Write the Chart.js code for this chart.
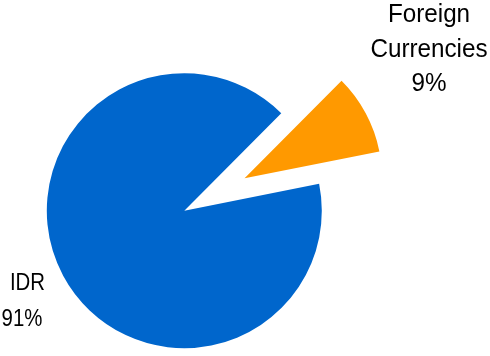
<!DOCTYPE html>
<html>
<head>
<meta charset="utf-8">
<script src="https://cdn.jsdelivr.net/npm/chart.js@4"></script>
<style>
  html, body { margin: 0; padding: 0; background: #ffffff; }
  #wrap { width: 490px; height: 356px; }
</style>
</head>
<body>
<div id="wrap"><canvas id="c" width="490" height="356"></canvas></div>
<script>
// ---- data ----
const categories = ['Foreign Currencies', 'IDR'];
const shareValues = [9.4, 90.6];
const percentLabels = ['9%', '91%'];
const sliceColors = ['#FF9900', '#0066CC'];

// draws arcs, pulling the first slice out along its mid-angle
const explodePlugin = {
  id: 'explodeSlice',
  beforeDatasetDraw(chart, args, opts) {
    const ctx = chart.ctx;
    args.meta.data.forEach((arc, i) => {
      ctx.save();
      if (i === opts.index) {
        const h = (arc.startAngle + arc.endAngle) / 2;
        ctx.translate(Math.cos(h) * opts.distance, Math.sin(h) * opts.distance);
      }
      arc.draw(ctx, chart.chartArea);
      ctx.restore();
    });
    return false;
  }
};

// outside text labels
const labelPlugin = {
  id: 'sliceLabels',
  afterDatasetsDraw(chart, args, opts) {
    const ctx = chart.ctx;
    opts.items.forEach(item => {
      const name = categories[item.index];
      const lines = (item.split ? name.split(' ') : [name]).concat([percentLabels[item.index]]);
      lines.forEach((ln, k) => {
        ctx.save();
        ctx.fillStyle = '#000000';
        ctx.font = item.size + 'px "Liberation Sans", Arial, sans-serif';
        ctx.textAlign = 'center';
        ctx.textBaseline = 'alphabetic';
        const x = item.x + (item.dx ? item.dx[k] : 0);
        const y = item.y + k * item.lh;
        ctx.translate(x, y);
        ctx.scale(item.sx, 1);
        ctx.fillText(ln, 0, 0);
        ctx.restore();
      });
    });
  }
};

new Chart(document.getElementById('c'), {
  type: 'pie',
  data: {
    labels: categories,
    datasets: [{
      data: shareValues,
      backgroundColor: sliceColors,
      borderWidth: 0
    }]
  },
  options: {
    responsive: false,
    animation: false,
    rotation: 44.85,
    radius: 137.5,
    layout: { padding: { left: 0, right: 121.4, top: 65.4, bottom: 0 } },
    plugins: {
      legend: { display: false },
      tooltip: { enabled: false },
      explodeSlice: { index: 0, distance: 68.4 },
      sliceLabels: {
        items: [
          { index: 0, split: true, x: 429, y: 22, lh: 34.5, size: 25, sx: 0.97 },
          { index: 1, split: false, x: 25, y: 290, lh: 36, size: 24, sx: 0.85, dx: [2.5, -3] }
        ]
      }
    }
  },
  plugins: [explodePlugin, labelPlugin]
});
</script>
</body>
</html>
